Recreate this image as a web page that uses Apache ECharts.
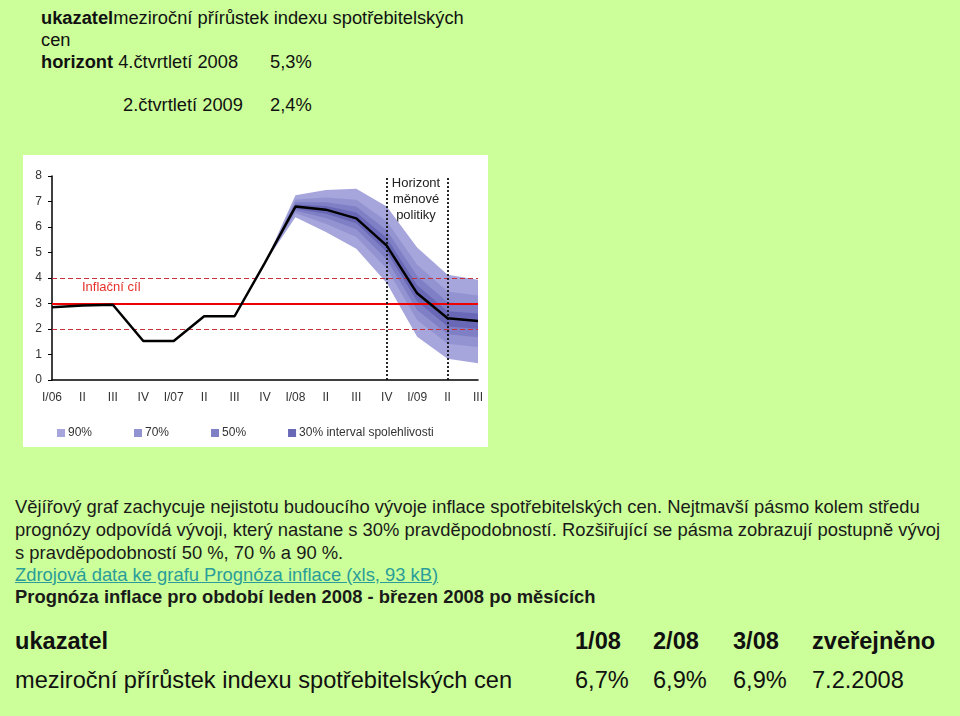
<!DOCTYPE html>
<html>
<head>
<meta charset="utf-8">
<script src="https://cdn.jsdelivr.net/npm/echarts@6/dist/echarts.min.js"></script>
<style>
  html, body { margin:0; padding:0; }
  body { width:960px; height:716px; background:#ccff99; position:relative; overflow:hidden;
         font-family:"Liberation Sans", Arial, sans-serif; color:#111; }
  .t { position:absolute; white-space:nowrap; }
  .top { font-size:18.3px; line-height:22px; }
  .par { font-size:18.4px; line-height:22px; left:15px; color:#1a1a1a; }
  .tab { font-size:23.6px; line-height:28px; }
  a { color:#2a9d9a; }
  #chart { position:absolute; left:23px; top:155px; width:465px; height:292px; background:#fff; }
</style>
</head>
<body>
<div class="t top" style="left:41px;top:7px;"><b>ukazatel</b>meziroční přírůstek indexu spotřebitelských</div>
<div class="t top" style="left:41px;top:29px;">cen</div>
<div class="t top" style="left:41px;top:51px;"><b>horizont</b> 4.čtvrtletí 2008</div>
<div class="t top" style="left:270px;top:51px;">5,3%</div>
<div class="t top" style="left:123px;top:94px;">2.čtvrtletí 2009</div>
<div class="t top" style="left:270px;top:94px;">2,4%</div>

<div id="chart"></div>

<div class="t par" style="top:496px;">Vějířový graf zachycuje nejistotu budoucího vývoje inflace spotřebitelských cen. Nejtmavší pásmo kolem středu</div>
<div class="t par" style="top:519px;">prognózy odpovídá vývoji, který nastane s 30% pravděpodobností. Rozšiřující se pásma zobrazují postupně vývoj</div>
<div class="t par" style="top:542px;">s pravděpodobností 50 %, 70 % a 90 %.</div>
<div class="t par" style="top:564px;"><a href="#">Zdrojová data ke grafu Prognóza inflace (xls, 93 kB)</a></div>
<div class="t par" style="top:586px;"><b>Prognóza inflace pro období leden 2008 - březen 2008 po měsících</b></div>

<div class="t tab" style="left:15px;top:627px;"><b>ukazatel</b></div>
<div class="t tab" style="left:575px;top:627px;"><b>1/08</b></div>
<div class="t tab" style="left:653px;top:627px;"><b>2/08</b></div>
<div class="t tab" style="left:733px;top:627px;"><b>3/08</b></div>
<div class="t tab" style="left:812px;top:627px;"><b>zveřejněno</b></div>
<div class="t tab" style="left:15px;top:666px;">meziroční přírůstek indexu spotřebitelských cen</div>
<div class="t tab" style="left:575px;top:666px;">6,7%</div>
<div class="t tab" style="left:653px;top:666px;">6,9%</div>
<div class="t tab" style="left:733px;top:666px;">6,9%</div>
<div class="t tab" style="left:812px;top:666px;">7.2.2008</div>

<script>
// ---- data ----
var categories = ['I/06','II','III','IV','I/07','II','III','IV','I/08','II','III','IV','I/09','II','III'];
var inflation = [2.85, 2.92, 2.95, 1.53, 1.53, 2.5, 2.5, 4.6, 6.8, 6.68, 6.34, 5.27, 3.4, 2.42, 2.31];
var fanStart = 7; // index of IV/07
var hi90 = [4.6, 7.25, 7.45, 7.50, 6.80, 5.20, 4.13, 3.93];
var lo90 = [4.6, 6.38, 5.80, 5.15, 3.80, 1.70, 0.83, 0.66];
var hi70 = [4.6, 7.08, 7.16, 7.07, 6.23, 4.52, 3.47, 3.31];
var lo70 = [4.6, 6.54, 6.13, 5.61, 4.37, 2.35, 1.42, 1.29];
var hi50 = [4.6, 6.97, 6.97, 6.80, 5.87, 4.08, 3.05, 2.93];
var lo50 = [4.6, 6.64, 6.35, 5.91, 4.73, 2.75, 1.79, 1.68];
var hi30 = [4.6, 6.88, 6.82, 6.57, 5.57, 3.72, 2.70, 2.61];
var lo30 = [4.6, 6.72, 6.52, 6.15, 5.03, 3.09, 2.10, 2.01];
var target = 3, targetLow = 2, targetHigh = 4;
var horizonLines = [11, 13];
var bandNames = ['90%', '70%', '50%', '30% interval spolehlivosti'];

var FONT = '"Liberation Sans", Arial, sans-serif';
var colors = ['#a6a6dc', '#9393d2', '#7f7fc6', '#6868b6'];

function band(name, lo, hi, color) {
  return {
    type: 'custom', name: name, coordinateSystem: 'cartesian2d',
    itemStyle: { color: color },
    data: [[fanStart, lo[0]]],
    z: 1,
    silent: true,
    renderItem: function (params, api) {
      var pts = [];
      for (var i = 0; i < hi.length; i++) pts.push(api.coord([fanStart + i, hi[i]]));
      for (var j = lo.length - 1; j >= 0; j--) pts.push(api.coord([fanStart + j, lo[j]]));
      return { type: 'polygon', shape: { points: pts }, style: { fill: color } };
    }
  };
}

var chart = echarts.init(document.getElementById('chart'), null, { renderer: 'canvas' });
chart.setOption({
  animation: false,
  backgroundColor: '#fff',
  textStyle: { fontFamily: FONT },
  grid: { left: 29, right: 10, top: 21, bottom: 67 },
  legend: {
    data: bandNames, left: 29, top: 267, icon: 'rect', itemWidth: 8, itemHeight: 8,
    itemGap: 42, textStyle: { fontSize: 12, color: '#333', fontFamily: FONT, padding: [0, 0, 0, -2] },
    selectedMode: false
  },
  xAxis: {
    type: 'category', data: categories, boundaryGap: false,
    axisLine: { lineStyle: { color: '#000', width: 1.5 } },
    axisTick: { show: false },
    axisLabel: { fontSize: 12, color: '#333', margin: 12, interval: 0, fontFamily: FONT }
  },
  yAxis: {
    type: 'value', min: 0, max: 8, interval: 1,
    splitLine: { show: false },
    axisLine: { show: true, lineStyle: { color: '#000', width: 1.5 } },
    axisTick: { show: true, length: 4, lineStyle: { color: '#000' } },
    axisLabel: { fontSize: 12, color: '#333', margin: 10, fontFamily: FONT }
  },
  graphic: [
    { type: 'text', left: 59, top: 126, style: { text: 'Inflační cíl', fill: '#e5302a', font: '13px ' + FONT } },
    { type: 'text', x: 393, y: 20, style: { text: 'Horizont\nměnové\npolitiky', fill: '#222', font: '13px ' + FONT, align: 'center', lineHeight: 16 } }
  ],
  series: [
    band(bandNames[0], lo90, hi90, colors[0]),
    band(bandNames[1], lo70, hi70, colors[1]),
    band(bandNames[2], lo50, hi50, colors[2]),
    band(bandNames[3], lo30, hi30, colors[3]),
    {
      type: 'line', name: 'inflace', data: inflation, symbol: 'none', z: 5,
      lineStyle: { color: '#000', width: 2.5 },
      markLine: {
        silent: true, symbol: 'none', label: { show: false },
        data: [
          { yAxis: target, lineStyle: { color: '#f00000', width: 2, type: 'solid' } },
          { yAxis: targetLow, lineStyle: { color: '#c8303c', width: 1.2, type: [5, 3] } },
          { yAxis: targetHigh, lineStyle: { color: '#c8303c', width: 1.2, type: [5, 3] } },
          { xAxis: horizonLines[0], lineStyle: { color: '#111', width: 1.8, type: [2, 2] } },
          { xAxis: horizonLines[1], lineStyle: { color: '#111', width: 1.8, type: [2, 2] } }
        ]
      }
    }
  ]
});
</script>
</body>
</html>
